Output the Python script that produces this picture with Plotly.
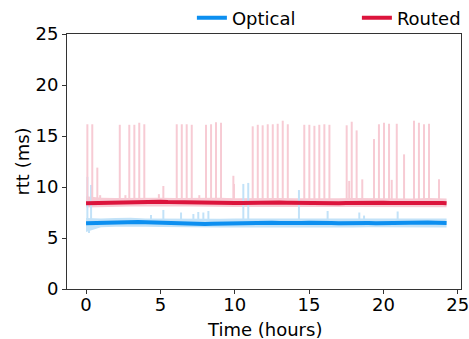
import numpy as np
import plotly.graph_objects as go

# ---------------- data ----------------
# smoothed rtt, sampled every half hour (hours)
smooth_time = [0.0, 0.5, 1.0, 1.5, 2.0, 2.5, 3.0, 3.5, 4.0, 4.5, 5.0, 5.5, 6.0, 6.5, 7.0, 7.5,
               8.0, 8.5, 9.0, 9.5, 10.0, 10.5, 11.0, 11.5, 12.0, 12.5, 13.0, 13.5, 14.0, 14.5,
               15.0, 15.5, 16.0, 16.5, 17.0, 17.5, 18.0, 18.5, 19.0, 19.5, 20.0, 20.5, 21.0,
               21.5, 22.0, 22.5, 23.0, 23.5, 24.0, 24.25]
routed_smooth = [8.40, 8.42, 8.45, 8.47, 8.50, 8.52, 8.50, 8.48, 8.50, 8.52, 8.55, 8.52, 8.50,
                 8.53, 8.55, 8.52, 8.50, 8.48, 8.47, 8.45, 8.42, 8.44, 8.46, 8.45, 8.43, 8.45,
                 8.47, 8.45, 8.43, 8.42, 8.44, 8.45, 8.43, 8.42, 8.40, 8.42, 8.44, 8.43, 8.45,
                 8.47, 8.46, 8.44, 8.45, 8.43, 8.42, 8.44, 8.45, 8.43, 8.42, 8.40]
optical_smooth = [6.45, 6.48, 6.50, 6.52, 6.55, 6.58, 6.60, 6.57, 6.55, 6.52, 6.50, 6.48, 6.45,
                  6.42, 6.40, 6.42, 6.38, 6.40, 6.42, 6.45, 6.47, 6.45, 6.43, 6.45, 6.48, 6.50,
                  6.48, 6.46, 6.45, 6.47, 6.50, 6.52, 6.50, 6.48, 6.45, 6.47, 6.50, 6.48, 6.46,
                  6.45, 6.47, 6.50, 6.52, 6.50, 6.48, 6.50, 6.52, 6.50, 6.48, 6.47]

# raw-measurement spread (hourly min / max of the noisy trace)
band_time = [0, 1, 2, 3, 4, 5, 6, 7, 8, 9, 10, 11, 12, 13, 14, 15, 16, 17, 18, 19, 20, 21, 22,
             23, 24, 24.25]
routed_low = [8.00, 8.05, 8.10, 8.08, 8.10, 8.12, 8.10, 8.08, 8.05, 8.06, 8.04, 8.05, 8.06, 8.04,
              8.05, 8.03, 8.04, 8.05, 8.03, 8.04, 8.05, 8.04, 8.03, 8.05, 8.04, 8.02]
routed_high = [9.10, 8.95, 8.92, 8.95, 8.98, 8.95, 8.93, 8.96, 8.92, 8.95, 8.90, 8.92, 8.90, 8.93,
               8.90, 8.88, 8.92, 8.90, 8.93, 8.90, 8.92, 8.90, 8.88, 8.92, 8.90, 8.88]
optical_low = [5.60, 6.05, 6.10, 6.12, 6.10, 6.08, 6.05, 6.02, 6.00, 6.02, 6.04, 6.03, 6.05, 6.04,
               6.05, 6.03, 6.05, 6.04, 6.03, 6.05, 6.04, 6.06, 6.05, 6.04, 6.05, 6.04]
optical_high = [6.95, 6.90, 6.95, 6.98, 6.92, 6.90, 6.88, 6.90, 6.86, 6.88, 6.90, 6.88, 6.90, 6.92,
                6.90, 6.88, 6.90, 6.92, 6.90, 6.88, 6.90, 6.92, 6.90, 6.88, 6.90, 6.90]

# individual raw rtt spikes (hours, ms)
routed_spike_time = [0.09, 0.42, 0.76, 0.95, 2.27, 2.65, 2.91, 3.25, 3.58, 3.92, 4.9, 5.2, 6.10,
                     6.44, 6.77, 7.11, 7.62, 8.07, 8.41, 8.74, 9.08, 9.91, 9.95, 11.21, 11.55,
                     11.88, 12.22, 12.56, 12.89, 13.23, 13.57, 14.68, 15.02, 15.36, 15.69, 16.03,
                     16.37, 17.53, 17.70, 17.87, 18.20, 18.58, 19.37, 19.70, 20.04, 20.38, 20.56,
                     20.90, 21.39, 22.06, 22.39, 22.73, 23.07, 23.74]
routed_spike_val = [16.15, 16.15, 11.9, 9.2, 16.1, 9.2, 16.1, 16.1, 16.3, 16.15, 9.3, 10.1, 16.15,
                    16.15, 16.15, 16.1, 9.2, 16.1, 16.15, 16.35, 16.3, 11.1, 10.3, 15.95, 16.1,
                    16.05, 16.15, 16.15, 16.2, 16.5, 16.15, 16.1, 16.1, 16.0, 16.1, 16.15, 16.1,
                    16.05, 10.6, 16.4, 15.55, 10.75, 14.7, 16.15, 16.3, 16.2, 10.7, 16.2, 13.2,
                    16.5, 16.3, 16.15, 16.2, 10.75]
optical_spike_time = [0.09, 0.34, 0.20, 4.37, 5.20, 6.39, 7.22, 7.55, 7.89, 8.23, 10.58, 10.91,
                      14.32, 16.25, 18.38, 18.70, 20.96]
optical_spike_val = [11.0, 10.2, 5.5, 7.25, 7.75, 7.5, 7.35, 7.55, 7.5, 7.65, 10.3, 10.4, 9.7,
                     7.65, 7.5, 7.2, 7.6]

x_ticks = [0, 5, 10, 15, 20, 25]
y_ticks = [0, 5, 10, 15, 20, 25]

# ---------------- styles ----------------
ROUTED = "#dc143c"
OPTICAL = "#0c8ff0"
ROUTED_LIGHT = "#f7cbd4"
OPTICAL_LIGHT = "#c2e2f8"
FONT = "DejaVu Sans"
FS = 18


def spike_segments(times, vals, base_t, base_v):
    xs, ys = [], []
    for t, v in zip(times, vals):
        b = float(np.interp(t, base_t, base_v))
        xs += [t, t, None]
        ys += [b, v, None]
    return xs, ys


fig = go.Figure()

for low, high, col in [(optical_low, optical_high, OPTICAL_LIGHT),
                       (routed_low, routed_high, ROUTED_LIGHT)]:
    fig.add_trace(go.Scatter(x=band_time, y=low, mode="lines", line=dict(width=0, color=col),
                             showlegend=False, hoverinfo="skip"))
    fig.add_trace(go.Scatter(x=band_time, y=high, mode="lines", line=dict(width=0, color=col),
                             fill="tonexty", fillcolor=col, showlegend=False, hoverinfo="skip"))

sx, sy = spike_segments(optical_spike_time, optical_spike_val, smooth_time, optical_smooth)
fig.add_trace(go.Scatter(x=sx, y=sy, mode="lines", line=dict(width=2, color=OPTICAL_LIGHT),
                         showlegend=False, hoverinfo="skip"))
sx, sy = spike_segments(routed_spike_time, routed_spike_val, smooth_time, routed_smooth)
fig.add_trace(go.Scatter(x=sx, y=sy, mode="lines", line=dict(width=2, color=ROUTED_LIGHT),
                         showlegend=False, hoverinfo="skip"))

fig.add_trace(go.Scatter(x=smooth_time, y=optical_smooth, mode="lines", name="Optical",
                         line=dict(width=4, color=OPTICAL)))
fig.add_trace(go.Scatter(x=smooth_time, y=routed_smooth, mode="lines", name="Routed",
                         line=dict(width=4, color=ROUTED)))

axis_common = dict(showgrid=False, zeroline=False, showline=True, linecolor="#333333",
                   linewidth=1, mirror=True, ticks="outside", ticklen=4, tickcolor="#333333",
                   automargin=False, ticklabeloverflow="allow",
                   tickfont=dict(family=FONT, size=FS, color="#000000"))

fig.update_layout(
    width=469, height=339,
    margin=dict(l=67, r=8, t=34, b=50, autoexpand=False),
    paper_bgcolor="white", plot_bgcolor="white",
    font=dict(family=FONT, size=FS, color="#000000"),
    xaxis=dict(range=[-1.28, 25.22], tickvals=x_ticks, ticktext=[str(v) for v in x_ticks],
               ticklabelstandoff=-5, **axis_common),
    yaxis=dict(range=[0, 25], tickvals=y_ticks, ticktext=[str(v) for v in y_ticks],
               **axis_common),
    legend=dict(orientation="h", x=0.317, xanchor="left", y=1.063, yanchor="middle",
                font=dict(family=FONT, size=FS), bgcolor="rgba(0,0,0,0)",
                traceorder="normal", itemwidth=30, entrywidth=120),
    showlegend=True,
    annotations=[
        dict(text="Time (hours)", xref="paper", yref="paper", x=0.5, y=-0.157,
             xanchor="center", yanchor="middle", showarrow=False,
             font=dict(family=FONT, size=FS, color="#000000")),
        dict(text="rtt (ms)", xref="paper", yref="paper", x=-0.114, y=0.5, textangle=-90,
             xanchor="center", yanchor="middle", showarrow=False,
             font=dict(family=FONT, size=FS, color="#000000")),
    ],
)

# remove the default page margin so the 469x339 figure fills the window exactly
fig.write_html("out.html",
               config={"displayModeBar": False},
               post_script="document.body.style.margin='0';"
                           "document.body.style.overflow='hidden';")
